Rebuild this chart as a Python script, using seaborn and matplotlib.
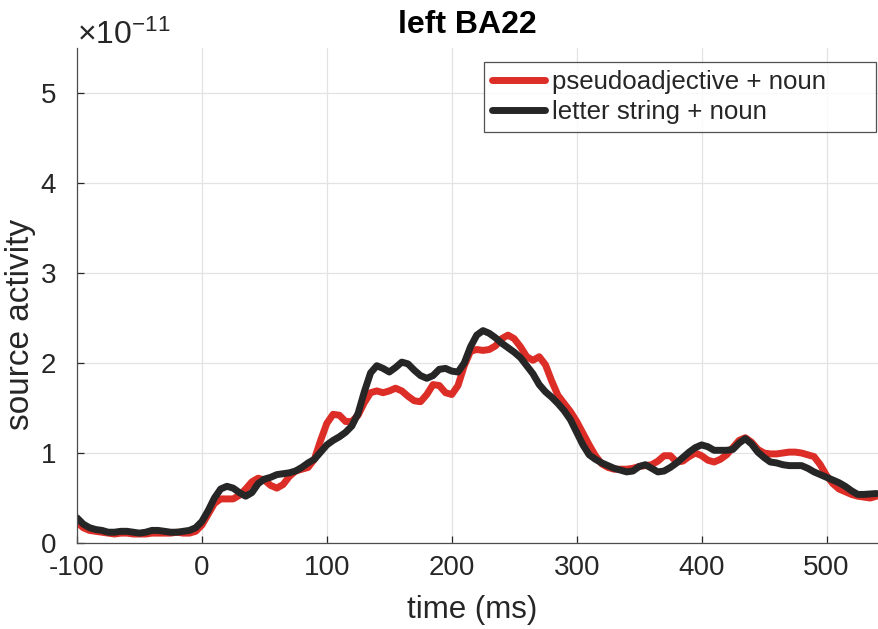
"""Source activity time course, left BA22."""

import matplotlib

matplotlib.use("Agg")
import matplotlib.pyplot as plt
import numpy as np
import pandas as pd
import seaborn as sns
from matplotlib.ticker import ScalarFormatter

# time axis in ms (5 ms steps)
time_ms = np.arange(-100, 545, 5)

# values in units of 1e-11
pseudoadj_noun = [
    0.23, 0.17, 0.14, 0.13, 0.12, 0.11, 0.10, 0.11, 0.11, 0.10,
    0.10, 0.10, 0.11, 0.11, 0.11, 0.11, 0.12, 0.11, 0.11, 0.13,
    0.20, 0.32, 0.44, 0.49, 0.49, 0.49, 0.53, 0.60, 0.68, 0.72,
    0.70, 0.64, 0.61, 0.65, 0.74, 0.80, 0.82, 0.84, 0.93, 1.14,
    1.33, 1.43, 1.42, 1.35, 1.35, 1.42, 1.56, 1.67, 1.69, 1.67,
    1.69, 1.72, 1.69, 1.63, 1.58, 1.57, 1.65, 1.76, 1.75, 1.67,
    1.65, 1.75, 1.97, 2.13, 2.15, 2.14, 2.15, 2.19, 2.27, 2.31,
    2.27, 2.18, 2.07, 2.03, 2.07, 1.98, 1.80, 1.64, 1.55, 1.46,
    1.35, 1.22, 1.09, 0.97, 0.88, 0.84, 0.82, 0.82, 0.82, 0.83,
    0.85, 0.86, 0.87, 0.91, 0.97, 0.97, 0.90, 0.91, 0.96, 1.00,
    0.97, 0.92, 0.90, 0.93, 0.98, 1.06, 1.14, 1.17, 1.12, 1.04,
    1.00, 0.99, 0.99, 1.00, 1.01, 1.01, 1.00, 0.98, 0.96, 0.87,
    0.75, 0.66, 0.60, 0.57, 0.54, 0.52, 0.51, 0.50, 0.52,
]

letterstring_noun = [
    0.28, 0.21, 0.17, 0.15, 0.14, 0.12, 0.12, 0.13, 0.13, 0.12,
    0.11, 0.12, 0.14, 0.14, 0.13, 0.12, 0.12, 0.13, 0.14, 0.17,
    0.24, 0.36, 0.50, 0.60, 0.63, 0.61, 0.56, 0.52, 0.56, 0.66,
    0.71, 0.73, 0.76, 0.77, 0.78, 0.80, 0.84, 0.89, 0.93, 1.01,
    1.09, 1.14, 1.18, 1.23, 1.30, 1.44, 1.68, 1.89, 1.97, 1.94,
    1.90, 1.95, 2.01, 1.99, 1.92, 1.86, 1.83, 1.86, 1.93, 1.94,
    1.91, 1.90, 2.00, 2.18, 2.31, 2.36, 2.33, 2.28, 2.22, 2.17,
    2.12, 2.06, 1.97, 1.88, 1.76, 1.68, 1.62, 1.55, 1.47, 1.37,
    1.23, 1.09, 0.98, 0.93, 0.89, 0.86, 0.83, 0.81, 0.79, 0.80,
    0.85, 0.87, 0.83, 0.79, 0.80, 0.84, 0.89, 0.95, 1.01, 1.06,
    1.09, 1.07, 1.03, 1.03, 1.03, 1.04, 1.11, 1.16, 1.10, 1.01,
    0.95, 0.90, 0.89, 0.87, 0.86, 0.86, 0.86, 0.83, 0.79, 0.76,
    0.73, 0.70, 0.67, 0.63, 0.58, 0.54, 0.54, 0.545, 0.55,
]

labels = ["pseudoadjective + noun", "letter string + noun"]
colors = ["#DC2D27", "#262626"]
SCALE = 1e-11

sns.set_theme(style="whitegrid")
plt.rcParams["font.family"] = ["Liberation Sans", "DejaVu Sans"]
plt.rcParams["mathtext.fontset"] = "custom"
plt.rcParams["mathtext.rm"] = "Liberation Sans"
plt.rcParams["axes.unicode_minus"] = False

df = pd.DataFrame({
    "time": np.concatenate([time_ms, time_ms]),
    "activity": np.concatenate([pseudoadj_noun, letterstring_noun]) * SCALE,
    "condition": [labels[0]] * len(time_ms) + [labels[1]] * len(time_ms),
})

fig = plt.figure(figsize=(8.79, 6.29), dpi=100)
ax = fig.add_axes([0.0876, 0.1367, 0.9124, 0.787])

sns.lineplot(data=df, x="time", y="activity", hue="condition",
             palette=colors, linewidth=5, ax=ax, legend=True)

ax.set_xlim(-100, 542)
ax.set_ylim(0, 5.5 * SCALE)
ax.set_xticks([-100, 0, 100, 200, 300, 400, 500])
ax.set_yticks(np.arange(0, 6) * SCALE)

fmt = ScalarFormatter(useMathText=True)
fmt.set_powerlimits((0, 0))
ax.yaxis.set_major_formatter(fmt)
ax.yaxis.get_offset_text().set_fontsize(23)
ax.yaxis.get_offset_text().set_color("#262626")

ax.grid(True, color="#E3E3E3", linewidth=0.9)
ax.set_facecolor("white")
for side in ["top", "right"]:
    ax.spines[side].set_visible(False)
for side in ["left", "bottom"]:
    ax.spines[side].set_color("#4D4D4D")
    ax.spines[side].set_linewidth(0.9)

ax.tick_params(axis="both", direction="in", length=5, width=0.9,
               colors="#262626", labelsize=20,
               bottom=True, left=True)
ax.tick_params(axis="x", pad=8.5)
ax.tick_params(axis="y", pad=15)

ax.set_xlabel("time (ms)", fontsize=22.5, color="#262626")
ax.xaxis.set_label_coords(0.493, -0.105)
ax.set_ylabel("source activity", fontsize=24, color="#262626")
ax.yaxis.set_label_coords(-0.051, 0.442)
ax.set_title("left BA22", fontsize=23, fontweight="bold", color="black",
             x=0.487, pad=11)

# legend box stretched to the reference width (text stays left aligned)
leg = ax.legend(loc="upper left", bbox_to_anchor=(0.508, 0.5, 0.488, 0.4717),
                mode="expand", borderaxespad=0, fontsize=18.6, frameon=True,
                fancybox=False, handlelength=2.05, borderpad=0.3,
                labelspacing=0.25, handletextpad=0.25)
leg.get_frame().set_edgecolor("#262626")
leg.get_frame().set_linewidth(0.9)
for line in leg.get_lines():
    line.set_linewidth(5)

fig.savefig("out.png", dpi=100)
